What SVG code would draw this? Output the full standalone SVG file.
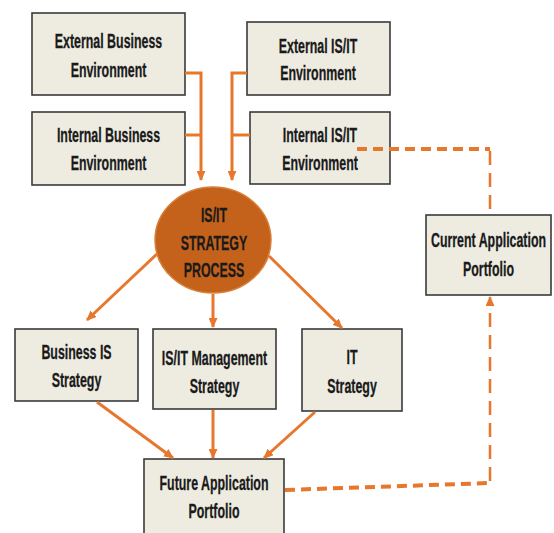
<svg xmlns="http://www.w3.org/2000/svg" width="554" height="533" viewBox="0 0 554 533">
<style>
.box{fill:#EEECE1;stroke:#3a3a3a;stroke-width:1.6}
.t{font-family:"Liberation Sans",Arial,sans-serif;font-weight:bold;font-size:21px;fill:#1a1a1a;stroke:#1a1a1a;stroke-width:0.3;text-anchor:middle}
.c{fill:none;stroke:#E8772E;stroke-width:3}
.dh{fill:none;stroke:#E8772E;stroke-width:4;stroke-dasharray:10 6}
.dv{fill:none;stroke:#E8772E;stroke-width:2.5;stroke-dasharray:14 8}
</style>
<defs>
<marker id="ah" markerUnits="userSpaceOnUse" markerWidth="10" markerHeight="9" refX="9" refY="4.5" orient="auto">
<path d="M0,0 L10,4.5 L0,9 z" fill="#E8772E"/>
</marker>
</defs>
<rect width="554" height="533" fill="#ffffff"/>
<g id="n-external-business">
<rect class="box" x="32" y="13" width="153" height="82"/>
<text class="t" transform="matrix(0.59 0 0 1 108.5 48)">External Business</text>
<text class="t" transform="matrix(0.59 0 0 1 108.5 77)">Environment</text>
</g>
<g id="n-internal-business">
<rect class="box" x="32" y="112" width="153" height="73"/>
<text class="t" transform="matrix(0.59 0 0 1 108.5 142)">Internal Business</text>
<text class="t" transform="matrix(0.59 0 0 1 108.5 170)">Environment</text>
</g>
<g id="n-external-isit">
<rect class="box" x="247" y="22" width="143" height="73"/>
<text class="t" transform="matrix(0.59 0 0 1 318 53)">External IS/IT</text>
<text class="t" transform="matrix(0.59 0 0 1 318 80)">Environment</text>
</g>
<g id="n-internal-isit">
<rect class="box" x="250" y="112" width="140" height="72"/>
<text class="t" transform="matrix(0.59 0 0 1 320 142)">Internal IS/IT</text>
<text class="t" transform="matrix(0.59 0 0 1 320 170)">Environment</text>
</g>
<g id="n-strategy-process">
<ellipse cx="213" cy="240" rx="58" ry="53" fill="#C4621C" stroke="#D8803A" stroke-width="1.5"/>
<text class="t" transform="matrix(0.59 0 0 1 214 222)">IS/IT</text>
<text class="t" transform="matrix(0.59 0 0 1 214 250)">STRATEGY</text>
<text class="t" transform="matrix(0.59 0 0 1 214 277)">PROCESS</text>
</g>
<g id="n-current-portfolio">
<rect class="box" x="426" y="215" width="125" height="80"/>
<text class="t" transform="matrix(0.59 0 0 1 488.5 247)">Current Application</text>
<text class="t" transform="matrix(0.59 0 0 1 488.5 276)">Portfolio</text>
</g>
<g id="n-business-is">
<rect class="box" x="15" y="329" width="123" height="72"/>
<text class="t" transform="matrix(0.59 0 0 1 76.5 359)">Business IS</text>
<text class="t" transform="matrix(0.59 0 0 1 76.5 387)">Strategy</text>
</g>
<g id="n-isit-management">
<rect class="box" x="153" y="329" width="123" height="80"/>
<text class="t" transform="matrix(0.59 0 0 1 214.5 365)">IS/IT Management</text>
<text class="t" transform="matrix(0.59 0 0 1 214.5 393)">Strategy</text>
</g>
<g id="n-it-strategy">
<rect class="box" x="302" y="329" width="100" height="82"/>
<text class="t" transform="matrix(0.59 0 0 1 352 364)">IT</text>
<text class="t" transform="matrix(0.59 0 0 1 352 393)">Strategy</text>
</g>
<g id="n-future-portfolio">
<rect class="box" x="144" y="459" width="140" height="82"/>
<text class="t" transform="matrix(0.59 0 0 1 214 490)">Future Application</text>
<text class="t" transform="matrix(0.59 0 0 1 214 518)">Portfolio</text>
</g>
<g id="connectors">
<polyline class="c" points="185,73 201,73 201,180" marker-end="url(#ah)"/>
<polyline class="c" points="185,135 201,135"/>
<polyline class="c" points="247,73 232,73 232,180" marker-end="url(#ah)"/>
<polyline class="c" points="250,135 232,135"/>
<line class="c" x1="157" y1="254" x2="87" y2="320" marker-end="url(#ah)"/>
<line class="c" x1="213" y1="294" x2="213" y2="327" marker-end="url(#ah)"/>
<line class="c" x1="269" y1="256" x2="342" y2="328" marker-end="url(#ah)"/>
<line class="c" x1="97" y1="402" x2="173" y2="458" marker-end="url(#ah)"/>
<line class="c" x1="213" y1="410" x2="213" y2="458" marker-end="url(#ah)"/>
<line class="c" x1="315" y1="412" x2="264" y2="458" marker-end="url(#ah)"/>
<path class="dh" d="M357,149 L490,149"/>
<path class="dv" d="M490,151 L490,213"/>
<path class="dh" d="M285,490 L490,483"/>
<path class="dv" d="M490,481 L490,297" marker-end="url(#ah)"/>
</g>
</svg>
